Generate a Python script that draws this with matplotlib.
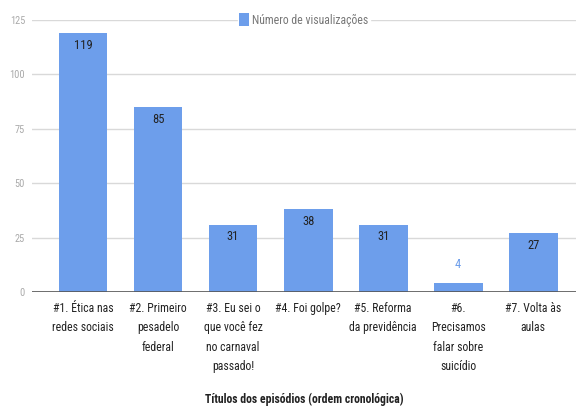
import matplotlib.pyplot as plt

plt.rcParams['font.family'] = ['Roboto Condensed', 'Roboto', 'DejaVu Sans']

episodes = [
    "#1. Ética nas\nredes sociais",
    "#2. Primeiro\npesadelo\nfederal",
    "#3. Eu sei o\nque você fez\nno carnaval\npassado!",
    "#4. Foi golpe?",
    "#5. Reforma\nda previdência",
    "#6.\nPrecisamos\nfalar sobre\nsuicídio",
    "#7. Volta às\naulas",
]
views = [119, 85, 31, 38, 31, 4, 27]
yticks = [0, 25, 50, 75, 100, 125]

bar_color = '#6d9eeb'

fig = plt.figure(figsize=(5.76, 4.08), dpi=100, facecolor='white')
ax = fig.add_axes([0.0556, 0.284, 0.9444, 0.667])

x = list(range(len(views)))
bars = ax.bar(x, views, width=0.65, color=bar_color, zorder=3)

# value labels: inside the bar, or above it when the bar is too short
for xi, v in zip(x, views):
    if v >= 10:
        ax.annotate(str(v), (xi, v), xytext=(0, -4), textcoords='offset points',
                    ha='center', va='top', fontsize=9, color='#222222', zorder=4)
    else:
        ax.annotate(str(v), (xi, v), xytext=(0, 9), textcoords='offset points',
                    ha='center', va='bottom', fontsize=9, color=bar_color, zorder=4)

ax.set_xlim(-0.68, 6.57)
ax.set_ylim(0, 125)
ax.set_yticks(yticks)
ax.set_yticklabels([str(t) for t in yticks], fontsize=7.5, color='#aaaaaa')
ax.tick_params(axis='y', length=0, pad=5)
ax.grid(axis='y', color='#d9d9d9', linewidth=1, zorder=0)
ax.axhline(0, color='#555555', linewidth=1.2, zorder=5)

ax.set_xticks(x)
ax.set_xticklabels(episodes, fontsize=8.5, color='#222222', linespacing=1.65, va='top')
ax.tick_params(axis='x', length=0, pad=7)

for side in ['top', 'right', 'left', 'bottom']:
    ax.spines[side].set_visible(False)

ax.set_xlabel('Títulos dos episódios (ordem cronológica)', fontsize=8.5,
              color='#222222', fontweight='bold')
ax.xaxis.set_label_coords(0.5, -0.37)

# legend sitting on the top gridline
leg = ax.legend([bars], ['Número de visualizações'], loc='center',
                bbox_to_anchor=(0.5, 1.0), frameon=True, fontsize=8.5,
                handlelength=0.8, handleheight=1.3, handletextpad=0.3,
                borderpad=0.1, borderaxespad=0)
leg.get_frame().set_edgecolor('white')
leg.get_frame().set_facecolor('white')
leg.get_frame().set_alpha(1)
for t in leg.get_texts():
    t.set_color('#777777')

fig.savefig('out.png', dpi=100, facecolor='white')
